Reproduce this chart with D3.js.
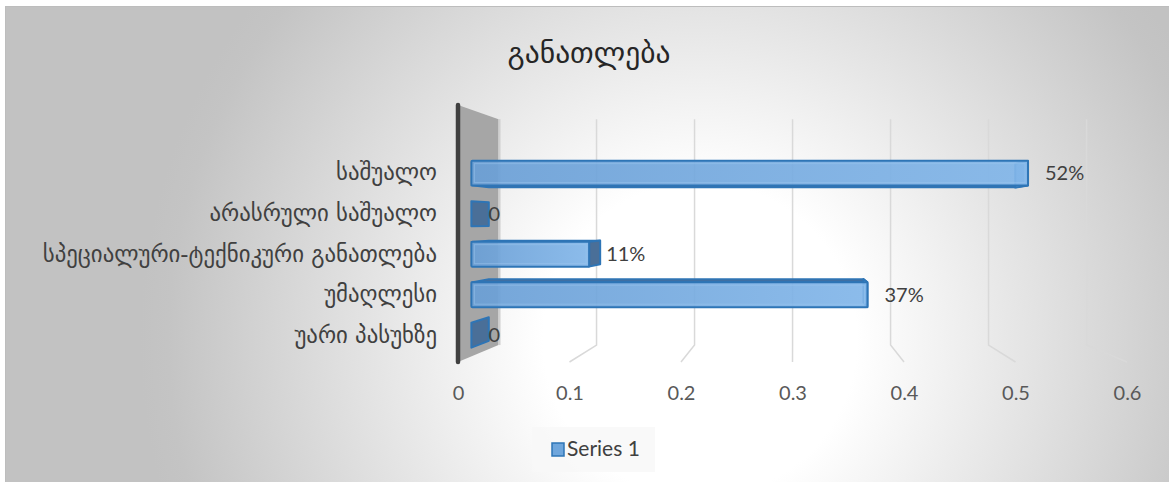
<!DOCTYPE html>
<html><head><meta charset="utf-8">
<script src="https://cdn.jsdelivr.net/npm/d3@7"></script>
<style>html,body{margin:0;padding:0;background:#fff;}svg{display:block;}</style>
</head><body>
<svg id="chart" width="1169" height="482"></svg>
<script>
const title = "განათლება";
const categories = ["საშუალო","არასრული საშუალო","სპეციალური-ტექნიკური განათლება","უმაღლესი","უარი პასუხზე"];
const values = [0.52, 0, 0.11, 0.37, 0];
const dataLabels = ["52%","0","11%","37%","0"];
const tickValues = [0, 0.1, 0.2, 0.3, 0.4, 0.5, 0.6];
const tickLabels = ["0","0.1","0.2","0.3","0.4","0.5","0.6"];
const seriesName = "Series 1";

const svg = d3.select("#chart");
const defs = svg.append("defs");
const geoFont = "'DejaVu Sans', sans-serif";
const numFont = "Lato, 'DejaVu Sans', sans-serif";

// background
const bg = defs.append("radialGradient").attr("id","bg").attr("gradientUnits","userSpaceOnUse")
  .attr("cx",700).attr("cy",340).attr("r",560);
bg.append("stop").attr("offset","0").attr("stop-color","#ffffff");
bg.append("stop").attr("offset","0.28").attr("stop-color","#ffffff");
bg.append("stop").attr("offset","0.95").attr("stop-color","#c4c4c4");
bg.append("stop").attr("offset","1").attr("stop-color","#c2c2c2");
svg.append("rect").attr("x",5.5).attr("y",6.5).attr("width",1170).attr("height",480)
  .attr("fill","url(#bg)").attr("stroke","#bdbdbd").attr("stroke-width",1);

const barGrad = defs.append("linearGradient").attr("id","barg").attr("x1","0").attr("x2","1").attr("y1","0").attr("y2","0");
barGrad.append("stop").attr("offset","0").attr("stop-color","#6a9fd6");
barGrad.append("stop").attr("offset","1").attr("stop-color","#82b6e9");

// perspective
const VX = 793, VY = 222, K = 0.121;
const P = (xf, yf, t) => { const s = 1 - K * t; return [VX + (xf - VX) * s, VY + (yf - VY) * s]; };
const poly = pts => "M" + pts.map(p => p.join(",")).join("L") + "Z";

const x = d3.scaleLinear().domain([0, 0.6]).range([458, 1127]);
const y = d3.scalePoint().domain(categories).range([150, 361]).padding(0.5);
const yTop = 105, yBot = 362;
const bw = 26, t0 = 0.33, t1 = 0.76;

// side wall
svg.append("path").attr("d", poly([P(x(0), yTop, 0), P(x(0), yTop, 1), P(x(0), yBot, 1), P(x(0), yBot, 0)]))
  .attr("fill","#a6a6a6");
svg.append("line").attr("x1",P(x(0),yTop,1)[0]+1).attr("y1",P(x(0),yTop,1)[1]).attr("x2",P(x(0),yBot,1)[0]+1).attr("y2",P(x(0),yBot,1)[1])
  .attr("stroke","#d0d0d0").attr("stroke-width",2);

// gridlines
svg.append("g").selectAll("path").data(tickValues.slice(1)).join("path")
  .attr("d", v => { const a = P(x(v), yTop, 1), b = P(x(v), yBot, 1), c = P(x(v), yBot, 0); return `M${a}L${b}L${c}`; })
  .attr("fill","none").attr("stroke","#d9d9d9").attr("stroke-width",1.5);

// axis line (front edge of wall)
svg.append("line").attr("x1",x(0)).attr("x2",x(0)).attr("y1",yTop).attr("y2",yBot)
  .attr("stroke","#404040").attr("stroke-width",4.5).attr("stroke-linecap","round");

// bars
const bars = svg.append("g").selectAll("g").data(categories.map((c, i) => ({c, v: values[i], lab: dataLabels[i]}))).join("g");
bars.each(function(d) {
  const g = d3.select(this);
  const yc = y(d.c), y0 = yc - bw / 2, y1 = yc + bw / 2, xa = x(0), xb = x(d.v);
  const capY = y0 > VY ? y0 : y1;
  if (d.v > 0) {
    g.append("path").attr("d", poly([P(xa, capY, t0), P(xb, capY, t0), P(xb, capY, t1), P(xa, capY, t1)]))
      .attr("fill", "#3f6fa3").attr("stroke", "#2e75b6").attr("stroke-width", 1.5).attr("stroke-linejoin","round");
  }
  g.append("path").attr("d", poly([P(xb, y0, t0), P(xb, y1, t0), P(xb, y1, t1), P(xb, y0, t1)]))
    .attr("fill", xb < VX ? "#4a6f98" : "#7fb2e5").attr("stroke", "#2e75b6").attr("stroke-width", 2).attr("stroke-linejoin","round");
  if (d.v > 0) {
    const a = P(xa, y0, t0), b = P(xb, y1, t0);
    g.append("rect").attr("x", a[0]).attr("y", a[1]).attr("width", b[0] - a[0]).attr("height", b[1] - a[1])
      .attr("fill", "url(#barg)").attr("fill-opacity", 0.92).attr("stroke", "#2e75b6").attr("stroke-width", 2).attr("rx",1);
    g.append("rect").attr("x", a[0] + 3).attr("y", a[1] + 3).attr("width", Math.max(0, b[0] - a[0] - 6)).attr("height", b[1] - a[1] - 6)
      .attr("fill", "none").attr("stroke", "#9cc7f0").attr("stroke-opacity", 0.5).attr("stroke-width", 1);
  }
  const lp = P(xb, yc, t0);
  g.append("text").attr("x", lp[0] + 17).attr("y", lp[1]).attr("dy", "0.36em")
    .attr("font-family", numFont).attr("font-size", 20).attr("fill", "#404040").text(d.lab);
});

// x axis labels
const xAxis = d3.axisBottom(x).tickValues(tickValues).tickFormat((d, i) => tickLabels[i]).tickSize(0).tickPadding(0);
const gx = svg.append("g").attr("transform", "translate(0,386)").call(xAxis);
gx.select(".domain").remove();
gx.selectAll("text").attr("font-family", numFont).attr("font-size", 20).attr("fill", "#595959");

// y axis labels
const yProj = d3.scalePoint().domain(categories).range([P(0,150,t0)[1], P(0,361,t0)[1]]).padding(0.5);
const yAxis = d3.axisLeft(yProj).tickSize(0).tickPadding(0);
const gy = svg.append("g").attr("transform", "translate(437,0)").call(yAxis);
gy.select(".domain").remove();
gy.selectAll("text").attr("font-family", geoFont).attr("font-size", 22.8).attr("fill", "#404040").attr("dy", "0.3em");

// title
svg.append("text").attr("x", 589).attr("y", 63).attr("text-anchor", "middle")
  .attr("font-family", geoFont).attr("font-size", 29.5).attr("fill", "#262626").text(title);

// legend
const lg = svg.append("g");
lg.append("rect").attr("x", 532).attr("y", 427).attr("width", 123).attr("height", 45).attr("fill", "#f8f8f8").attr("fill-opacity", 0.8);
lg.append("rect").attr("x", 552).attr("y", 443).attr("width", 12).attr("height", 13).attr("fill", "#6fa6dc").attr("stroke", "#2e75b6").attr("stroke-width", 1.5);
lg.append("text").attr("x", 567).attr("y", 456).attr("font-family", numFont).attr("font-size", 21).attr("fill", "#404040").text(seriesName);
</script>
</body></html>
